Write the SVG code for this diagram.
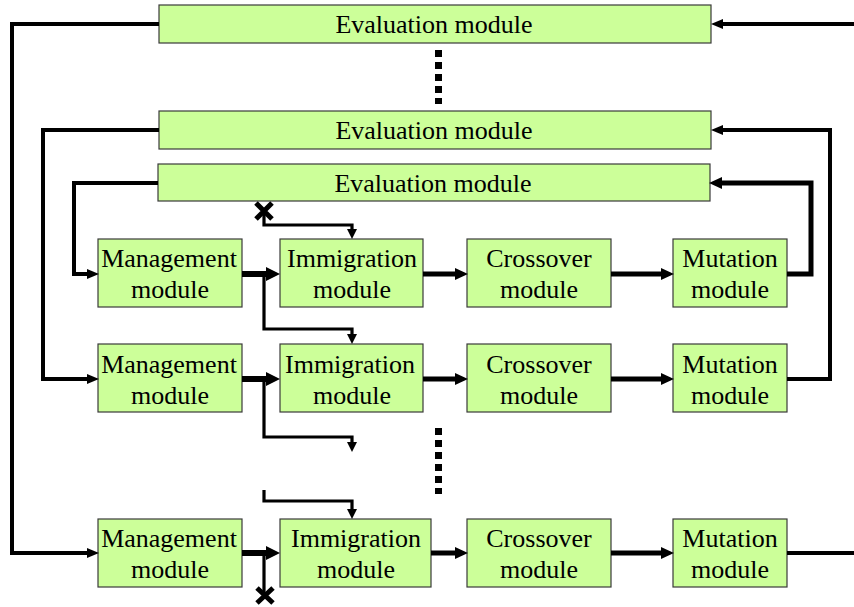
<svg xmlns="http://www.w3.org/2000/svg" width="854" height="607" viewBox="0 0 854 607">
<style>
.box{fill:#ccff99;stroke:#3a3a3a;stroke-width:1.2}
.t{font-family:"Liberation Serif","Times New Roman",serif;font-size:26px;fill:#000;text-anchor:middle}
.c{fill:none;stroke:#000;stroke-linejoin:miter;stroke-linecap:butt}
.w3{stroke-width:4}
.w4{stroke-width:5}
.w5{stroke-width:6}
.w2{stroke-width:3.2}
.dots{fill:none;stroke:#000;stroke-width:7;stroke-dasharray:7 5}
</style>
<defs>
<marker id="aS" markerUnits="userSpaceOnUse" markerWidth="12" markerHeight="10" refX="1" refY="5" orient="auto">
<path d="M0,0 L12,5 L0,10 z" fill="#000"/>
</marker>
<marker id="aM" markerUnits="userSpaceOnUse" markerWidth="13" markerHeight="12" refX="1" refY="6" orient="auto">
<path d="M0,0 L13,6 L0,12 z" fill="#000"/>
</marker>
<marker id="aL" markerUnits="userSpaceOnUse" markerWidth="14" markerHeight="14" refX="1" refY="7" orient="auto">
<path d="M0,0 L14,7 L0,14 z" fill="#000"/>
</marker>
<marker id="aD" markerUnits="userSpaceOnUse" markerWidth="10" markerHeight="10" refX="1" refY="5" orient="auto">
<path d="M0,0 L10,5 L0,10 z" fill="#000"/>
</marker>
</defs>

<g id="eval1"><rect class="box" x="159" y="5" width="552" height="38"/><text class="t" x="434" y="33">Evaluation module</text></g>
<g id="eval2"><rect class="box" x="159" y="111" width="552" height="38"/><text class="t" x="434" y="139">Evaluation module</text></g>
<g id="eval3"><rect class="box" x="158" y="164" width="552" height="37"/><text class="t" x="433" y="192">Evaluation module</text></g>

<g id="mgmt1"><rect class="box" x="98" y="239" width="144" height="68"/><text class="t" x="169" y="267">Management</text><text class="t" x="170" y="298">module</text></g>
<g id="imm1"><rect class="box" x="280" y="239" width="143" height="68"/><text class="t" x="352" y="267">Immigration</text><text class="t" x="352" y="298">module</text></g>
<g id="cross1"><rect class="box" x="467" y="239" width="144" height="68"/><text class="t" x="539" y="267">Crossover</text><text class="t" x="539" y="298">module</text></g>
<g id="mut1"><rect class="box" x="673" y="239" width="114" height="68"/><text class="t" x="730" y="267">Mutation</text><text class="t" x="730" y="298">module</text></g>

<g id="mgmt2"><rect class="box" x="98" y="344" width="144" height="68"/><text class="t" x="169" y="373">Management</text><text class="t" x="170" y="404">module</text></g>
<g id="imm2"><rect class="box" x="280" y="344" width="143" height="68"/><text class="t" x="350" y="373">Immigration</text><text class="t" x="352" y="404">module</text></g>
<g id="cross2"><rect class="box" x="467" y="344" width="144" height="68"/><text class="t" x="539" y="373">Crossover</text><text class="t" x="539" y="404">module</text></g>
<g id="mut2"><rect class="box" x="673" y="344" width="114" height="68"/><text class="t" x="730" y="373">Mutation</text><text class="t" x="730" y="404">module</text></g>

<g id="mgmt3"><rect class="box" x="98" y="519" width="144" height="68"/><text class="t" x="169" y="547">Management</text><text class="t" x="170" y="578">module</text></g>
<g id="imm3"><rect class="box" x="280" y="519" width="151" height="68"/><text class="t" x="356" y="547">Immigration</text><text class="t" x="356" y="578">module</text></g>
<g id="cross3"><rect class="box" x="467" y="519" width="144" height="68"/><text class="t" x="539" y="547">Crossover</text><text class="t" x="539" y="578">module</text></g>
<g id="mut3"><rect class="box" x="673" y="519" width="114" height="68"/><text class="t" x="730" y="547">Mutation</text><text class="t" x="730" y="578">module</text></g>

<g id="connectors">
<path class="c w3" d="M159,24 H12 V553 H88" marker-end="url(#aS)"/>
<path class="c w3" d="M159,130 H43 V379 H88" marker-end="url(#aS)"/>
<path class="c w3" d="M158,183 H74 V274 H88" marker-end="url(#aS)"/>
<path class="c w3" d="M854,24 H722" marker-end="url(#aS)"/>
<path class="c w4" d="M787,274 H811 V183 H721" marker-end="url(#aM)"/>
<path class="c w3" d="M787,379 H830 V130 H722" marker-end="url(#aS)"/>
<path class="c w3" d="M787,553 H854"/>

<path class="c w5" d="M242,274 H267" marker-end="url(#aL)"/>
<path class="c w4" d="M423,274 H456" marker-end="url(#aM)"/>
<path class="c w4" d="M611,274 H662" marker-end="url(#aM)"/>
<path class="c w5" d="M242,379 H267" marker-end="url(#aL)"/>
<path class="c w4" d="M423,379 H456" marker-end="url(#aM)"/>
<path class="c w4" d="M611,379 H662" marker-end="url(#aM)"/>
<path class="c w5" d="M242,553 H267" marker-end="url(#aL)"/>
<path class="c w4" d="M431,553 H456" marker-end="url(#aM)"/>
<path class="c w4" d="M611,553 H662" marker-end="url(#aM)"/>

<path class="c w2" d="M264,211 V225 H352 V230" marker-end="url(#aD)"/>
<path class="c w2" d="M264,274 V329 H352 V335" marker-end="url(#aD)"/>
<path class="c w2" d="M264,379 V437 H352 V443" marker-end="url(#aD)"/>
<path class="c w2" d="M264,490 V501 H352 V510" marker-end="url(#aD)"/>
<path class="c w2" d="M264,553 V595"/>

<path class="c w4" d="M256,203 L272,219 M272,203 L256,219"/>
<path class="c w4" d="M257,588 L273,603 M273,588 L257,603"/>

<path class="dots" d="M438.5,50 V104"/>
<path class="dots" d="M438.5,428 V494"/>
</g>
</svg>
